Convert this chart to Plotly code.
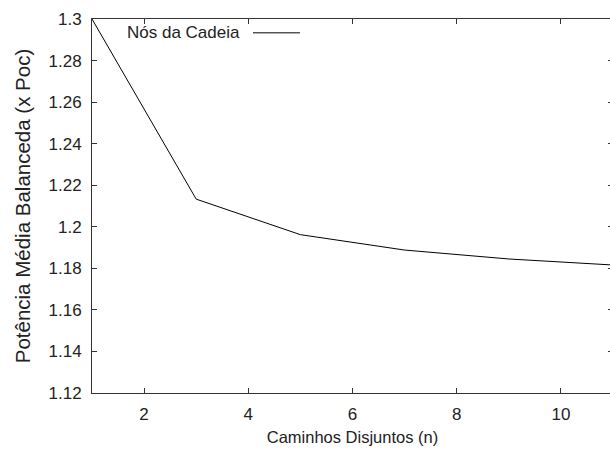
import plotly.graph_objects as go

# Data
n_paths = [1, 3, 5, 7, 9, 11]
power = [1.3, 1.2133, 1.1962, 1.1888, 1.1845, 1.1816]
series_name = "Nós da Cadeia"
x_ticks = [2, 4, 6, 8, 10]
y_ticks = [1.12, 1.14, 1.16, 1.18, 1.2, 1.22, 1.24, 1.26, 1.28, 1.3]
y_ticktext = ["1.12", "1.14", "1.16", "1.18", "1.2", "1.22", "1.24", "1.26", "1.28", "1.3"]

FONT = "Liberation Sans, Arial, sans-serif"
TXT = "#222222"

fig = go.Figure()
fig.add_trace(go.Scatter(x=n_paths, y=power, mode="lines", name=series_name,
                         line=dict(color="black", width=1), showlegend=False))

axis_common = dict(showline=True, linecolor="#333333", linewidth=1, mirror="ticks",
                   ticks="inside", ticklen=5, tickcolor="#333333", showgrid=False,
                   zeroline=False, tickfont=dict(family=FONT, size=17, color=TXT))

fig.update_xaxes(range=[1, 11], tickvals=x_ticks, ticklabelstandoff=6,
                 title=dict(text="Caminhos Disjuntos (n)", font=dict(family=FONT, size=16.5, color=TXT),
                            standoff=8),
                 **axis_common)
fig.update_yaxes(range=[1.12, 1.3], tickvals=y_ticks, ticktext=y_ticktext, ticklabelstandoff=6,
                 title=dict(text="Potência Média Balanceda (x Poc)", font=dict(family=FONT, size=20.5, color=TXT),
                            standoff=12),
                 **axis_common)

# gnuplot-style key: text followed by line sample
fig.add_annotation(xref="paper", yref="paper", x=0.2879, y=0.965, xanchor="right", yanchor="middle",
                   text=series_name, showarrow=False, font=dict(family=FONT, size=17, color=TXT))
fig.add_shape(type="line", xref="paper", yref="paper", x0=0.3090, x1=0.3992, y0=0.963, y1=0.963,
              line=dict(color="black", width=1))

# plot area spans x 92..613 like the original, whose right border falls just outside the 610px window
fig.update_layout(width=613, height=449, margin=dict(l=92, r=0, t=19, b=56),
                  plot_bgcolor="white", paper_bgcolor="white", font=dict(family=FONT))

fig.write_html("out.html", config={"displayModeBar": False},
               post_script="document.body.style.margin='0';document.documentElement.style.overflow='hidden';document.body.style.overflow='hidden';")
